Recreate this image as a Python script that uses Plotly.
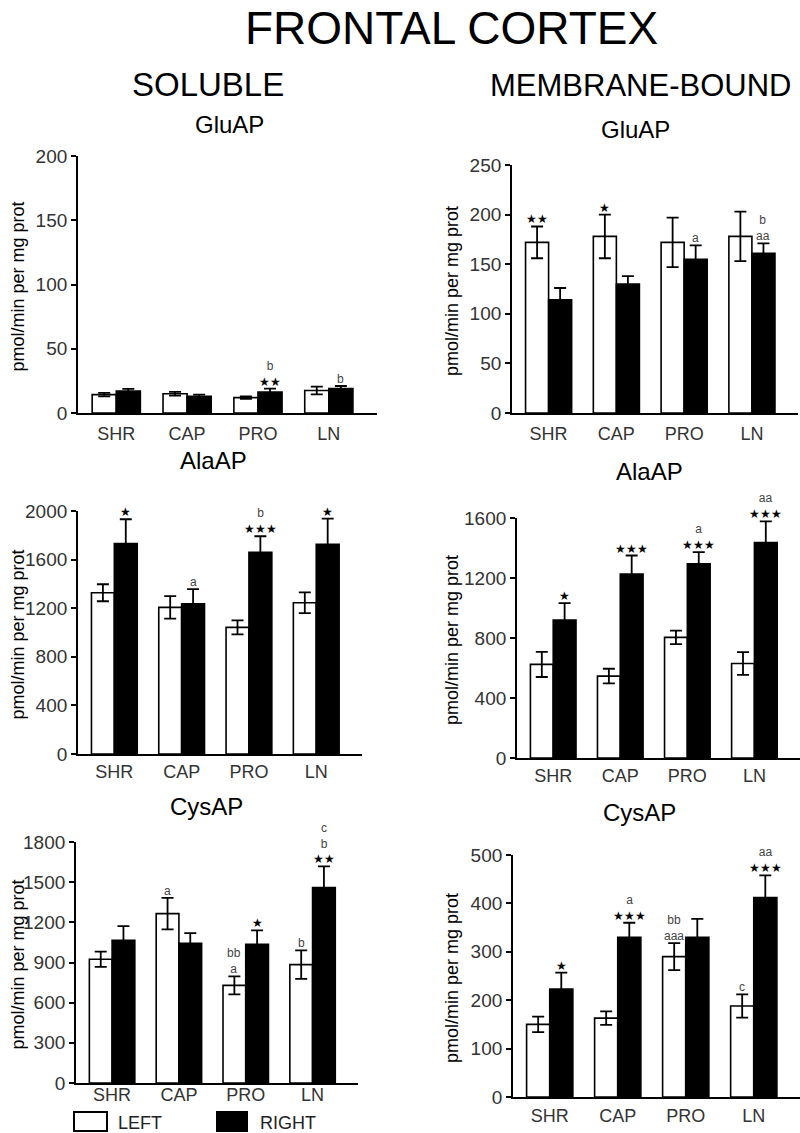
import plotly.graph_objects as go

# Frontal cortex aminopeptidase activities (pmol/min per mg prot), mean and SEM
categories = ['SHR', 'CAP', 'PRO', 'LN']

sol_glu_left = [14.3, 15, 12, 17.5]
sol_glu_left_err = [1.3, 1.5, 1.0, 3]
sol_glu_right = [17, 13, 16.3, 19]
sol_glu_right_err = [1.8, 1.3, 2.6, 2]

mem_glu_left = [172, 178, 172, 178]
mem_glu_left_err = [16, 22, 25, 25]
mem_glu_right = [114, 130, 155, 161]
mem_glu_right_err = [12, 8, 14, 10]

sol_ala_left = [1327, 1207, 1042, 1245]
sol_ala_left_err = [70, 93, 58, 85]
sol_ala_right = [1732, 1237, 1661, 1726]
sol_ala_right_err = [200, 120, 131, 211]

mem_ala_left = [624, 546, 804, 630]
mem_ala_left_err = [84, 49, 45, 76]
mem_ala_right = [920, 1227, 1294, 1437]
mem_ala_right_err = [113, 123, 78, 140]

sol_cys_left = [924, 1265, 729, 884]
sol_cys_left_err = [57, 117, 67, 107]
sol_cys_right = [1065, 1043, 1036, 1459]
sol_cys_right_err = [107, 77, 104, 159]

mem_cys_left = [150, 163, 290, 188]
mem_cys_left_err = [16, 14, 28, 24]
mem_cys_right = [223, 330, 330, 412]
mem_cys_right_err = [34, 30, 38, 46]

# significance marks: (category index, bar side, labels from bottom to top)
sol_glu_marks = [(2, 'R', ['**', 'b']), (3, 'R', ['b'])]
mem_glu_marks = [(0, 'L', ['**']), (1, 'L', ['*']), (2, 'R', ['a']), (3, 'R', ['aa', 'b'])]
sol_ala_marks = [(0, 'R', ['*']), (1, 'R', ['a']), (2, 'R', ['***', 'b']), (3, 'R', ['*'])]
mem_ala_marks = [(0, 'R', ['*']), (1, 'R', ['***']), (2, 'R', ['***', 'a']), (3, 'R', ['***', 'aa'])]
sol_cys_marks = [(1, 'L', ['a']), (2, 'L', ['a', 'bb']), (2, 'R', ['*']),
                 (3, 'L', ['b']), (3, 'R', ['**', 'b', 'c'])]
mem_cys_marks = [(0, 'R', ['*']), (1, 'R', ['***', 'a']), (2, 'L', ['aaa', 'bb']),
                 (3, 'L', ['c']), (3, 'R', ['***', 'aa'])]

W, H = 800, 1133
FONT = 'Liberation Sans, Arial, sans-serif'
BAR_W = 0.34

# panel boxes in pixels: x0, x1, y_top, y_bottom; plus y max, tick step, title and its centre,
# and the gap of the category labels under the axis
panels = [
    dict(box=(78, 377, 156, 413), ymax=200, dtick=50, title='GluAP', tpos=(229, 124), gap=3,
         data=(sol_glu_left, sol_glu_left_err, sol_glu_right, sol_glu_right_err), marks=sol_glu_marks),
    dict(box=(512, 798, 165, 413), ymax=250, dtick=50, title='GluAP', tpos=(635, 130), gap=3,
         data=(mem_glu_left, mem_glu_left_err, mem_glu_right, mem_glu_right_err), marks=mem_glu_marks),
    dict(box=(78, 362, 511, 754), ymax=2000, dtick=400, title='AlaAP', tpos=(213, 461), gap=0,
         data=(sol_ala_left, sol_ala_left_err, sol_ala_right, sol_ala_right_err), marks=sol_ala_marks),
    dict(box=(517, 800, 518, 758), ymax=1600, dtick=400, title='AlaAP', tpos=(649, 472), gap=0,
         data=(mem_ala_left, mem_ala_left_err, mem_ala_right, mem_ala_right_err), marks=mem_ala_marks),
    dict(box=(76, 358, 842, 1083), ymax=1800, dtick=300, title='CysAP', tpos=(207, 806), gap=-6,
         data=(sol_cys_left, sol_cys_left_err, sol_cys_right, sol_cys_right_err), marks=sol_cys_marks),
    dict(box=(513, 800, 855, 1097), ymax=500, dtick=100, title='CysAP', tpos=(639, 812), gap=1,
         data=(mem_cys_left, mem_cys_left_err, mem_cys_right, mem_cys_right_err), marks=mem_cys_marks),
]


def px(x):
    return x / W


def py(y):
    return 1 - y / H


def paper_text(text, x, y, size, color='black', anchor='center', angle=0):
    return dict(text=text, x=px(x), y=py(y), xref='paper', yref='paper', showarrow=False,
                xanchor=anchor, yanchor='middle', textangle=angle,
                font=dict(family=FONT, size=size, color=color))


def mark_text(labels):
    # stars drawn as black five-point stars, letters in grey; stacked top to bottom
    lines = []
    for lab in reversed(labels):
        if lab.startswith('*'):
            lines.append("<span style='color:black'>" + '\u2605' * len(lab) + '</span>')
        else:
            lines.append(lab)
    return '<br>'.join(lines)


def build_figure():
    fig = go.Figure()
    annotations = []
    xs = list(range(len(categories)))

    for i, p in enumerate(panels):
        n = '' if i == 0 else str(i + 1)
        xa, ya = 'x' + n, 'y' + n
        left, left_err, right, right_err = p['data']
        x0, x1, yt, yb = p['box']

        for vals, errs, fill, off in [(left, left_err, 'white', -BAR_W), (right, right_err, 'black', 0)]:
            fig.add_trace(go.Bar(
                x=xs, y=vals, width=BAR_W, offset=off,
                marker=dict(color=fill, line=dict(color='black', width=1.6)),
                error_y=dict(type='data', array=errs, visible=True, color='black',
                             thickness=1.8, width=6),
                xaxis=xa, yaxis=ya, showlegend=False, hoverinfo='skip'))

        fig.layout['xaxis' + n] = dict(
            domain=[px(x0), px(x1)], anchor=ya, range=[-0.54, 3.68], automargin=False,
            tickvals=xs, ticktext=categories, ticks='', showgrid=False, zeroline=False,
            showline=True, linecolor='black', linewidth=1.8, ticklabelstandoff=p['gap'],
            tickfont=dict(family=FONT, size=18, color='#333'), fixedrange=True)
        fig.layout['yaxis' + n] = dict(
            domain=[py(yb), py(yt)], anchor=xa, range=[0, p['ymax']], dtick=p['dtick'],
            automargin=False, ticks='outside', ticklen=5, tickwidth=1.5, tickcolor='black',
            showgrid=False, zeroline=False, showline=True, linecolor='black', linewidth=1.8,
            tickfont=dict(family=FONT, size=19, color='#333'), fixedrange=True)

        # panel title and y-axis title
        annotations.append(paper_text(p['title'], p['tpos'][0], p['tpos'][1], 24))
        ytx = 17 if x0 < 200 else 452
        annotations.append(paper_text('pmol/min per mg prot', ytx, (yt + yb) / 2 + 2, 18, angle=-90))

        # significance labels above error bars
        for ci, side, labels in p['marks']:
            if side == 'L':
                top, xpos = left[ci] + left_err[ci], ci - BAR_W / 2
            else:
                top, xpos = right[ci] + right_err[ci], ci + BAR_W / 2
            annotations.append(dict(
                text=mark_text(labels), x=xpos, y=top, xref=xa, yref=ya, showarrow=False,
                xanchor='center', yanchor='bottom', yshift=-1, borderpad=0,
                font=dict(family=FONT, size=12, color='#444')))

    # headings
    annotations.append(paper_text('FRONTAL CORTEX', 451, 28, 46))
    annotations.append(paper_text('SOLUBLE', 208, 84, 33))
    annotations.append(paper_text('MEMBRANE-BOUND', 640, 86, 31))

    # legend
    shapes = [
        dict(type='rect', xref='paper', yref='paper', x0=px(74), x1=px(107), y0=py(1131), y1=py(1112),
             fillcolor='white', line=dict(color='black', width=2)),
        dict(type='rect', xref='paper', yref='paper', x0=px(217), x1=px(247), y0=py(1131), y1=py(1112),
             fillcolor='black', line=dict(color='black', width=2)),
    ]
    annotations.append(paper_text('LEFT', 116, 1123, 18, '#222', 'left'))
    annotations.append(paper_text('RIGHT', 258, 1123, 18, '#222', 'left'))

    fig.update_layout(
        width=W, height=H, margin=dict(l=0, r=0, t=0, b=0, autoexpand=False),
        paper_bgcolor='white', plot_bgcolor='white',
        annotations=annotations, shapes=shapes, barmode='overlay')
    return fig


def main():
    fig = build_figure()
    # the page body has a default 8px margin; remove it so the figure fills the window
    fig.write_html("out.html", config={'displayModeBar': False},
                   post_script="document.body.style.margin='0';document.body.style.overflow='hidden';")


if __name__ == '__main__':
    main()
